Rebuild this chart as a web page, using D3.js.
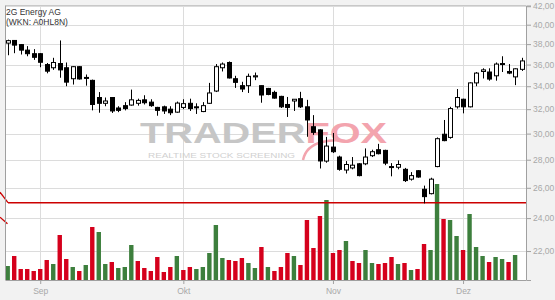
<!DOCTYPE html>
<html>
<head>
<meta charset="utf-8">
<script src="https://cdn.jsdelivr.net/npm/d3@7"></script>
<style>
body{margin:0;background:#f2f2f2;}
svg{display:block;font-family:"Liberation Sans",Arial,sans-serif;}
</style>
</head>
<body>
<div id="chart"></div>
<script>
// 2G Energy AG - daily candles, late Aug to mid Dec

var days = d3.range(80);

var openP = [38.1,38.37,37.95,37.4,37.05,37.05,36.0,35.7,36.1,35.7,
  34.68,35.8,34.8,34.53,33.0,32.5,33.0,32.1,32.3,32.35,
  32.5,32.8,32.6,32.15,32.2,32.0,31.75,32.15,32.5,32.2,
  31.8,32.5,33.57,35.7,36.2,34.68,34.05,34.05,34.85,34.05,
  33.8,33.45,33.1,32.4,32.7,32.9,32.2,30.55,30.3,27.9,
  28.95,28.2,27.25,27.4,27.7,27.7,28.3,28.75,28.7,27.5,
  27.45,27.3,26.6,27.2,25.9,25.6,27.5,29.95,29.7,32.2,
  32.85,32.2,34.3,35.35,35.3,34.95,36.05,35.35,34.85,35.55];

var highP = [38.45,38.4,38.0,37.8,37.5,37.1,36.15,36.65,38.37,36.2,
  35.85,35.85,35.07,34.6,33.48,33.0,33.0,32.25,32.6,33.7,
  32.9,33.2,32.85,32.2,32.3,32.25,32.65,32.85,32.9,32.5,
  32.6,34.3,36.05,36.2,36.3,34.95,34.4,35.15,35.25,34.05,
  33.85,33.6,33.15,33.05,32.85,33.5,32.8,31.5,30.35,29.74,
  30.05,28.3,27.9,28.2,27.75,28.85,28.75,29.2,28.75,27.75,
  27.95,27.4,27.1,27.25,26.15,26.7,29.7,31.1,32.2,33.75,
  32.9,34.35,35.3,35.65,35.65,36.2,36.8,36.05,35.65,36.65];

var lowP = [36.9,37.1,36.97,36.8,36.45,35.75,35.18,35.5,34.77,34.0,
  34.15,34.6,34.05,31.9,31.7,32.25,31.68,31.75,31.9,32.3,
  32.3,32.4,32.2,31.45,31.6,31.5,31.7,32.0,31.85,31.6,
  31.75,32.45,33.48,35.35,34.7,33.85,33.48,33.4,34.55,32.55,
  33.2,32.9,32.1,31.35,31.85,32.1,29.75,29.9,27.36,27.78,
  28.5,27.2,27.0,27.3,26.8,27.6,28.2,28.4,27.6,26.8,
  27.3,26.4,26.5,26.7,24.95,25.55,27.45,29.4,29.6,32.05,
  31.65,32.15,34.0,34.7,34.5,34.5,35.3,35.1,34.1,35.4];

var closeP = [38.35,37.9,37.4,37.05,36.7,36.22,35.38,36.2,35.5,34.37,
  35.8,34.66,34.72,32.4,32.5,32.7,31.85,31.9,32.05,32.8,
  32.75,32.55,32.3,31.9,31.85,31.7,32.52,32.47,32.05,32.15,
  32.3,33.4,35.8,36.05,34.75,34.35,33.75,34.9,34.95,33.22,
  33.27,32.95,32.2,32.15,32.85,32.2,31.1,30.1,27.91,29.03,
  28.6,27.3,27.65,27.6,26.85,28.2,28.6,28.45,27.75,27.45,
  27.65,26.5,26.85,26.75,25.4,26.6,29.6,29.45,32.05,33.0,
  32.2,34.3,35.2,35.5,34.65,36.05,36.1,35.2,35.6,36.35];

// volume in thousand shares, no value yet for the last day
var volume = [14,24,11,11,9,11,20,16,45,21,13,9,15,53,48,16,18,12,13,35,
  19,12,9,23,8,13,24,10,13,11,13,27,55,22,20,19,22,17,12,33,
  13,9,13,27,24,15,60,32,64,80,27,30,39,19,17,30,17,16,17,23,
  16,17,10,11,36,30,96,61,60,44,30,66,33,24,18,23,21,18,25];

var monthLabels = ["Sep","Okt","Nov","Dez"];
var monthStart = [5,27,50,70];
var priceTicks = [22,24,26,28,30,32,34,36,38,40,42];
var alarmLevel = 25;

var W = 555, H = 300;
var plotL = 5.5, plotR = 526, plotT = 5.5, plotB = 280;

var de = d3.formatLocale({decimal:",", thousands:".", grouping:[3], currency:["","€"]});
var fmt = de.format(".2f");

var x = d3.scalePoint().domain(days).range([7.7, 521.6]);
var y = d3.scaleLog().domain([20.38, 42.08]).range([plotB, plotT]);
var yVol = d3.scaleLinear().domain([0, 100]).range([plotB, 180]);

var svg = d3.select("#chart").append("svg")
    .attr("width", W)
    .attr("height", H);

// plot background
svg.append("rect")
    .attr("x", plotL).attr("y", plotT)
    .attr("width", plotR-plotL).attr("height", plotB-plotT)
    .style("fill", "#fff");

// grid
svg.append("g").selectAll("line").data(priceTicks).enter().append("line")
    .attr("x1", plotL).attr("x2", plotR)
    .attr("y1", function(d){return Math.round(y(d))+0.5})
    .attr("y2", function(d){return Math.round(y(d))+0.5})
    .style("stroke", "#dcdcdc");

svg.append("g").selectAll("line").data(monthStart).enter().append("line")
    .attr("x1", function(d){return Math.round(x(d))+0.5})
    .attr("x2", function(d){return Math.round(x(d))+0.5})
    .attr("y1", plotT).attr("y2", plotB)
    .style("stroke", "#dcdcdc");

// watermark
var wm = svg.append("g");
wm.append("text")
    .attr("x", 140).attr("y", 143)
    .attr("textLength", 247).attr("lengthAdjust", "spacingAndGlyphs")
    .style("font-size", "29px").style("font-weight", "bold")
    .call(function(t){
      t.append("tspan").text("TRADER").style("fill", "#c6c6c6");
      t.append("tspan").text("FOX").style("fill", "#f3a4ae");
    });
wm.append("text")
    .attr("x", 148).attr("y", 158)
    .attr("textLength", 147).attr("lengthAdjust", "spacingAndGlyphs")
    .style("font-size", "7px")
    .style("fill", "#d0d0d0")
    .text("REALTIME STOCK SCREENING");
wm.append("path")
    .attr("d", "M303,160 Q306,146 322,142 Q334,139 345,141")
    .style("fill", "none").style("stroke", "#f3a4ae").style("stroke-width", 2.5);

// volume
var volData = volume.map(function(v,i){
  var up = i==0 ? closeP[i]>=openP[i] : closeP[i]>=closeP[i-1];
  return {i:i, v:v, up:up};
});

svg.append("g").selectAll("rect").data(volData).enter().append("rect")
    .attr("x", function(d){return x(d.i)-2.2})
    .attr("width", 4.4)
    .attr("y", function(d){return yVol(d.v)})
    .attr("height", function(d){return plotB-yVol(d.v)})
    .style("fill", function(d){return d.up ? "#3d7f3d" : "#d5001c"});

// alarm line
svg.append("line")
    .attr("x1", 8).attr("x2", plotR)
    .attr("y1", y(alarmLevel)).attr("y2", y(alarmLevel))
    .style("stroke", "#cc0000").style("stroke-width", 1.5);
svg.append("line")
    .attr("x1", 0).attr("y1", y(alarmLevel)-10.5)
    .attr("x2", 8).attr("y2", y(alarmLevel))
    .style("stroke", "#cc0000").style("stroke-width", 1.3);
svg.append("line")
    .attr("x1", 0).attr("y1", y(alarmLevel)+14.5)
    .attr("x2", 7.5).attr("y2", y(alarmLevel)+21)
    .style("stroke", "#cc0000").style("stroke-width", 1.3);

// candles
var candles = svg.append("g").selectAll("g").data(days).enter().append("g");

candles.append("line")
    .attr("x1", function(d){return Math.round(x(d))+0.5})
    .attr("x2", function(d){return Math.round(x(d))+0.5})
    .attr("y1", function(d){return y(highP[d])})
    .attr("y2", function(d){return y(lowP[d])})
    .style("stroke", "#000");

candles.append("rect")
    .attr("x", function(d){return Math.round(x(d))-1.5})
    .attr("width", 4)
    .attr("y", function(d){return y(Math.max(openP[d],closeP[d]))})
    .attr("height", function(d){return Math.max(1, y(Math.min(openP[d],closeP[d]))-y(Math.max(openP[d],closeP[d])))})
    .style("fill", function(d){return closeP[d]>=openP[d] ? "#fff" : "#000"})
    .style("stroke", "#000");

// frame
svg.append("line").attr("x1", plotL).attr("x2", plotR).attr("y1", plotT).attr("y2", plotT).style("stroke", "#c8c8c8");
svg.append("line").attr("x1", plotL).attr("x2", plotL).attr("y1", plotT).attr("y2", plotB).style("stroke", "#a0a0a0");

// axes
var yAxis = svg.append("g")
    .attr("transform", "translate(" + plotR + ",0)")
    .call(d3.axisRight(y).tickValues(priceTicks).tickFormat(fmt).tickSize(5).tickPadding(2));

var xAxis = svg.append("g")
    .attr("transform", "translate(0," + plotB + ")")
    .call(d3.axisBottom(x).tickValues(monthStart)
      .tickFormat(function(d,i){return monthLabels[i]}).tickSize(4).tickPadding(4));

[yAxis, xAxis].forEach(function(a){
  a.select(".domain").style("stroke", "#a0a0a0");
  a.selectAll(".tick line").style("stroke", "#a0a0a0");
  a.selectAll("text").style("fill", "#a8a8a8").style("font-size", "8.5px")
    .style("font-family", "'Liberation Sans',Arial,sans-serif");
});
xAxis.select(".domain").attr("d", "M" + plotL + ",0.5H" + plotR);

// title
svg.append("text").attr("x", 6).attr("y", 15.3)
    .style("font-size", "8.5px").style("fill", "#333").text("2G Energy AG");
svg.append("text").attr("x", 6).attr("y", 24.5)
    .style("font-size", "8.5px").style("fill", "#333").text("(WKN: A0HL8N)");
</script>
</body>
</html>
